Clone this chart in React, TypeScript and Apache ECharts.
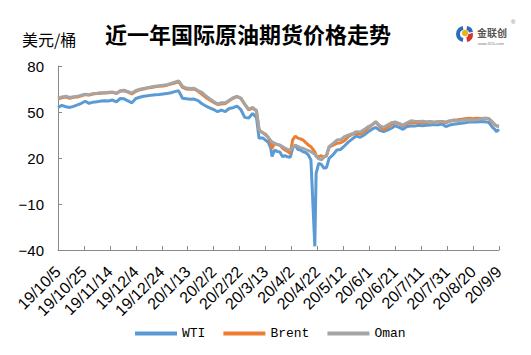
import React, { useEffect, useRef } from "react";
import * as echarts from "echarts";

const dateLabels = [
  "19/10/5", "19/10/25", "19/11/14", "19/12/4", "19/12/24", "20/1/13", "20/2/2", "20/2/22", "20/3/13",
  "20/4/2", "20/4/22", "20/5/12", "20/6/1", "20/6/21", "20/7/11", "20/7/31", "20/8/20", "20/9/9",
];

// day offsets from 2019/10/5
const days = [
  0, 3, 6, 9, 12, 15, 18, 21, 24, 27, 30, 33, 36, 39, 42, 45, 48, 51, 54, 57, 60, 63, 66, 69, 72, 75,
  78, 81, 84, 87, 90, 93, 96, 99, 102, 105, 108, 111, 114, 117, 120, 123, 126, 129, 132, 135, 138, 141, 144, 147, 150, 153,
  155, 156, 158, 160, 162, 164, 165, 167, 169, 171,
  173, 175, 177, 179, 181, 183, 185, 187, 189, 191,
  193, 195, 198, 199, 201, 203, 205, 207, 209, 212,
  215, 218, 221, 224, 227, 230, 233, 236, 239, 242,
  245, 248, 251, 254, 257, 260, 263, 266, 269, 272,
  275, 278, 281, 284, 287, 290, 293, 296, 299, 302,
  305, 308, 311, 314, 317, 320, 323, 326, 329, 332,
  335, 337, 338, 340,
];

const wti = [
  53.0, 54.3, 53.4, 53.0, 53.7, 54.6, 55.7, 57.0, 55.6, 56.4, 56.7, 57.1, 57.4, 57.2, 57.8, 56.6, 58.8, 58.6, 57.2, 56.0,
  58.8, 59.6, 60.3, 60.6, 61.0, 61.2, 61.4, 61.7, 62.0, 62.6, 63.3, 63.8, 59.0, 58.6, 58.3, 58.4, 57.4, 55.4, 53.9, 52.7,
  51.6, 50.2, 51.2, 50.3, 52.3, 52.8, 53.9, 51.5, 46.5, 46.0, 49.0, 46.5,
  32.8, 33.0, 33.0, 31.6, 30.5, 26.5, 21.0, 25.2, 24.3, 24.0,
  21.0, 21.5, 20.8, 20.4, 26.5, 28.4, 25.5, 25.2, 24.0, 23.5,
  22.0, 18.8, -37.6, 10.0, 16.5, 15.8, 13.3, 13.8, 19.8, 22.0,
  25.2, 25.6, 28.0, 30.5, 32.5, 34.3, 33.5, 35.0, 37.0, 38.8,
  40.0, 38.0, 37.2, 38.2, 39.4, 41.0, 40.0, 38.7, 40.5, 40.9,
  40.8, 41.3, 41.0, 41.3, 41.5, 41.8, 41.6, 42.2, 40.5, 41.5,
  42.0, 42.3, 42.6, 43.0, 43.4, 43.7, 43.5, 43.8, 43.7, 43.3,
  40.0, 38.5, 37.2, 38.7,
];

const brent = [
  58.5, 59.2, 59.8, 59.0, 59.6, 59.8, 60.5, 61.3, 61.0, 61.7, 62.0, 62.2, 62.4, 62.6, 62.8, 62.2, 63.6, 63.8, 63.0, 61.8,
  63.5, 64.5, 65.0, 65.6, 66.0, 66.5, 66.8, 67.0, 67.5, 68.2, 68.9, 69.8, 66.0, 65.0, 64.8, 65.0, 63.5, 61.5, 59.5, 57.8,
  56.3, 54.9, 55.2, 55.5, 57.3, 58.9, 60.0, 58.9, 55.0, 51.3, 52.5, 50.8,
  38.5, 37.2, 36.5, 35.5, 33.5, 30.0, 26.3, 29.6, 28.8, 28.4,
  26.5, 25.2, 24.2, 23.0, 32.0, 34.3, 33.0, 32.5, 31.7, 30.0,
  28.5, 27.4, 24.0, 21.5, 20.8, 21.5, 20.5, 21.3, 27.0, 28.4,
  29.6, 30.0, 31.5, 34.0, 35.5, 36.0, 35.8, 37.0, 39.5, 41.5,
  43.5, 40.5, 38.5, 40.0, 41.8, 43.0, 42.2, 41.0, 42.5, 42.8,
  43.0, 43.2, 43.0, 43.0, 43.4, 43.5, 43.6, 43.7, 43.0, 44.0,
  44.8, 45.0, 45.3, 45.6, 45.9, 45.6, 45.9, 45.8, 45.9, 45.7,
  43.0, 41.5, 41.0, 40.9,
];

const oman = [
  59.0, 59.8, 60.3, 59.5, 60.0, 60.2, 61.0, 61.6, 61.3, 62.0, 62.2, 62.5, 62.6, 62.9, 63.1, 62.0, 63.9, 64.2, 63.3, 62.4,
  64.0, 64.8, 65.4, 65.9, 66.4, 66.8, 67.2, 67.4, 67.8, 68.6, 69.5, 70.3, 66.8, 65.6, 65.3, 65.5, 64.0, 62.8, 60.5, 58.6,
  56.8, 55.3, 56.0, 56.0, 57.6, 59.3, 60.2, 59.0, 55.2, 51.8, 53.0, 51.0,
  38.8, 37.6, 36.4, 35.0, 33.6, 31.5, 30.5, 29.6, 28.8, 28.4,
  27.5, 26.5, 25.6, 25.2, 27.0, 28.4, 27.5, 26.8, 26.3, 25.5,
  24.8, 24.1, 22.5, 21.0, 19.5, 18.7, 20.5, 22.0, 27.4, 29.5,
  31.7, 32.0, 34.0, 35.0, 35.8, 37.2, 37.0, 38.5, 40.5, 41.5,
  43.7, 41.2, 40.0, 41.5, 43.0, 43.5, 42.5, 41.5, 43.0, 44.3,
  44.0, 43.8, 44.0, 43.7, 43.8, 43.0, 43.6, 43.8, 43.5, 44.3,
  44.5, 44.3, 44.6, 44.8, 44.9, 44.8, 45.0, 45.5, 45.9, 45.8,
  43.5, 41.8, 41.0, 40.4,
];

const seriesNames = ["WTI", "Brent", "Oman"];
const seriesColors = ["#5B9BD5", "#ED7D31", "#A5A5A5"];

export default function App() {
  const ref = useRef<HTMLDivElement>(null);
  useEffect(() => {
    if (!ref.current) return;
    const chart = echarts.init(ref.current, undefined, { renderer: "svg" });
    const values = [wti, brent, oman];
    chart.setOption({
      animation: false,
      backgroundColor: "#ffffff",
      grid: { left: 58, right: 32, top: 66, bottom: 105, containLabel: false },
      legend: {
        data: seriesNames,
        left: 130,
        top: 322,
        itemWidth: 42,
        itemHeight: 4,
        itemGap: 18,
        icon: "rect",
        textStyle: { fontFamily: "Liberation Mono", fontSize: 13, color: "#000" },
      },
      xAxis: {
        type: "value",
        min: 0,
        max: 340,
        interval: 20,
        splitLine: { show: false },
        axisLine: { show: true, onZero: false, lineStyle: { color: "#898989", width: 1 } },
        axisTick: { show: true, inside: true, length: 4, lineStyle: { color: "#898989" } },
        axisLabel: {
          rotate: 45,
          margin: 19,
          fontSize: 16,
          fontFamily: "Liberation Sans",
          color: "#000",
          showMinLabel: true,
          showMaxLabel: true,
          formatter: (v: number) => dateLabels[Math.round(v / 20)] ?? "",
        },
      },
      yAxis: {
        type: "value",
        min: -40,
        max: 80,
        interval: 30,
        splitLine: { show: false },
        axisLine: { show: true, lineStyle: { color: "#898989", width: 1 } },
        axisTick: { show: true, inside: true, length: 4, lineStyle: { color: "#898989" } },
        axisLabel: {
          margin: 14,
          fontSize: 15,
          fontFamily: "Liberation Sans",
          color: "#000",
          formatter: (v: number) => String(v).replace("-", "\u2212"),
        },
      },
      series: seriesNames.map((name, k) => ({
        name,
        type: "line",
        showSymbol: false,
        symbol: "none",
        data: days.map((d, i) => [d, values[k][i]]),
        lineStyle: { width: 3, color: seriesColors[k] },
        itemStyle: { color: seriesColors[k] },
      })),
      graphic: [
        {
          type: "text",
          left: 22,
          top: 31,
          style: { text: "美元/桶", font: '16px "Noto Sans CJK SC"', fill: "#000" },
        },
        {
          type: "text",
          x: 248,
          y: 33,
          style: {
            text: "近一年国际原油期货价格走势",
            font: 'bold 22px "Noto Sans CJK SC"',
            fill: "#000",
            textAlign: "center",
            textVerticalAlign: "middle",
          },
        },
        { type: "sector", shape: { cx: 464, cy: 34, r: 8, r0: 4, startAngle: Math.PI * 0.55, endAngle: Math.PI * 1.45 }, style: { fill: "#2a6ebb" } },
        { type: "circle", shape: { cx: 465, cy: 33, r: 3.2 }, style: { fill: "#f2b01e" } },
        { type: "sector", shape: { cx: 466, cy: 35, r: 7, r0: 2, startAngle: -Math.PI * 0.1, endAngle: Math.PI * 0.45 }, style: { fill: "#d9342b" } },
        { type: "sector", shape: { cx: 466, cy: 33, r: 7, r0: 3, startAngle: -Math.PI * 0.45, endAngle: -Math.PI * 0.05 }, style: { fill: "#2a6ebb" } },
        {
          type: "text",
          left: 477,
          top: 27,
          style: { text: "金联创", font: 'bold 10px "Noto Sans CJK SC"', fill: "#555" },
        },
        {
          type: "text",
          left: 478,
          top: 41,
          style: { text: "www.315i.com", font: '4px "Liberation Sans"', fill: "#777" },
        },
        {
          type: "text",
          left: 511,
          top: 19,
          style: { text: "®", font: '6px "Liberation Sans"', fill: "#777" },
        },
      ],
    });
    return () => chart.dispose();
  }, []);
  return <div ref={ref} style={{ width: 531, height: 355, position: "absolute", left: 0, top: 0 }} />;
}
